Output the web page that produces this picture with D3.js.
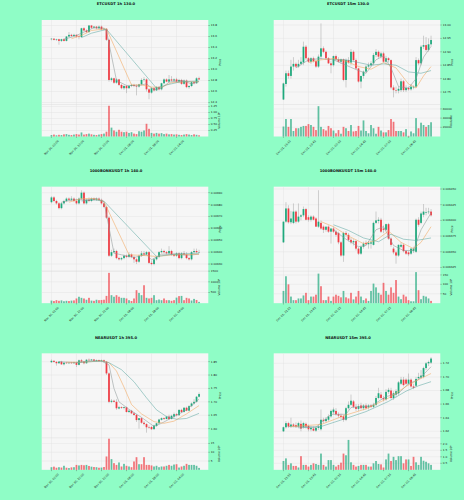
<!DOCTYPE html>
<html><head><meta charset="utf-8">
<script src="https://cdn.jsdelivr.net/npm/d3@7"></script>
<style>
html,body{margin:0;padding:0;background:#8ffdc6;}
svg{display:block;}
text{font-family:"DejaVu Sans",sans-serif;}
</style></head>
<body>
<svg id="chart" width="464" height="500"></svg>
<script>
// ---------- DATA ----------
const hourLabels = ["Nov 30, 02:00","Nov 30, 12:00","Nov 30, 22:00","Dec 01, 08:00","Dec 01, 18:00","Dec 02, 04:00"];
const quarterLabels = ["Dec 01, 21:15","Dec 01, 23:45","Dec 02, 02:15","Dec 02, 04:45","Dec 02, 07:15","Dec 02, 09:45"];
const tickIndex = [0,10,20,30,40,50];

// [open, high, low, close, volume]
const etc1h = [
[13.55,13.57,13.53,13.56,0.06],[13.56,13.57,13.53,13.54,0.08],[13.54,13.56,13.52,13.55,0.05],[13.55,13.56,13.45,13.52,0.07],
[13.52,13.56,13.50,13.55,0.06],[13.55,13.57,13.51,13.52,0.09],[13.52,13.61,13.51,13.60,0.10],[13.60,13.68,13.58,13.63,0.07],
[13.63,13.65,13.59,13.61,0.06],[13.61,13.65,13.60,13.63,0.08],[13.63,13.64,13.58,13.60,0.10],[13.60,13.62,13.55,13.59,0.08],
[13.59,13.76,13.58,13.75,0.17],[13.75,13.77,13.69,13.71,0.08],[13.71,13.73,13.66,13.68,0.10],[13.68,13.81,13.67,13.80,0.12],
[13.80,13.81,13.74,13.76,0.09],[13.76,13.79,13.74,13.78,0.07],[13.78,13.79,13.73,13.75,0.06],[13.75,13.80,13.74,13.78,0.08],
[13.78,13.80,13.72,13.73,0.10],[13.73,13.76,13.71,13.74,0.12],[13.74,13.75,13.52,13.54,0.20],[13.54,13.56,12.78,12.81,1.28],
[12.81,12.86,12.78,12.84,0.37],[12.84,12.85,12.74,12.76,0.25],[12.76,12.84,12.74,12.82,0.20],[12.82,12.83,12.70,12.72,0.28],
[12.72,12.74,12.64,12.66,0.20],[12.66,12.72,12.63,12.70,0.18],[12.70,12.72,12.57,12.66,0.20],[12.66,12.72,12.65,12.70,0.15],
[12.70,12.74,12.68,12.72,0.18],[12.72,12.74,12.68,12.70,0.12],[12.70,12.73,12.53,12.69,0.10],[12.69,12.74,12.67,12.73,0.22],
[12.73,12.84,12.71,12.81,0.20],[12.81,12.86,12.78,12.82,0.25],[12.82,12.84,12.60,12.64,0.53],[12.64,12.66,12.46,12.58,0.32],
[12.58,12.68,12.56,12.66,0.15],[12.66,12.68,12.60,12.62,0.12],[12.62,12.70,12.61,12.68,0.15],[12.68,12.70,12.62,12.64,0.12],
[12.64,12.76,12.62,12.75,0.14],[12.75,12.84,12.73,12.82,0.10],[12.82,12.84,12.77,12.78,0.12],[12.78,12.90,12.76,12.82,0.09],
[12.82,12.88,12.78,12.80,0.10],[12.80,12.84,12.78,12.82,0.08],[12.82,12.85,12.76,12.78,0.09],[12.78,12.83,12.75,12.81,0.07],
[12.81,12.83,12.72,12.74,0.06],[12.74,12.82,12.72,12.80,0.08],[12.80,12.82,12.66,12.68,0.10],[12.68,12.72,12.65,12.70,0.08],
[12.70,12.78,12.68,12.77,0.06],[12.77,12.79,12.73,12.75,0.09],[12.75,12.86,12.74,12.84,0.07],[12.84,12.87,12.81,12.82,0.05]
];
const etc1hMaShort = [[5,13.55],[9,13.6],[13,13.68],[17,13.76],[21,13.75],[22,13.7],[26,12.8],[30,12.71],[35,12.71],[38,12.74],[41,12.63],[44,12.66],[47,12.77],[52,12.8],[56,12.74],[59,12.78]];
const etc1hMaMid = [[8,13.56],[12,13.62],[16,13.71],[22,13.74],[32,12.72],[36,12.72],[40,12.68],[44,12.68],[48,12.76],[54,12.78],[59,12.78]];
const etc1hMaLong = [[12,13.58],[16,13.66],[22,13.73],[42,12.66],[46,12.72],[52,12.78],[59,12.79]];
const etc1hPriceTicks = [13.8,13.6,13.4,13.2,13.0,12.8,12.6,12.4];
const etc1hVolTicks = [0.25,0.5,0.75,1.0,1.25];

const etc15m = [
[12.722,12.785,12.72,12.782,21700],[12.78,12.83,12.77,12.82,38000],[12.82,12.83,12.80,12.81,21000],[12.81,12.87,12.80,12.845,38000],
[12.845,12.88,12.83,12.855,12000],[12.855,12.86,12.84,12.845,18000],[12.845,12.87,12.84,12.855,18000],[12.855,12.88,12.85,12.863,21000],
[12.86,12.938,12.85,12.919,23000],[12.919,12.925,12.87,12.876,23000],[12.876,12.88,12.86,12.863,27000],[12.863,12.88,12.855,12.876,25000],
[12.876,12.882,12.86,12.865,21000],[12.865,12.87,12.84,12.845,14000],[12.845,12.89,12.84,12.882,66000],[12.882,13.006,12.87,12.913,21000],
[12.913,12.92,12.895,12.90,16000],[12.90,12.905,12.87,12.876,13000],[12.876,12.88,12.855,12.857,23000],[12.857,12.865,12.82,12.85,18000],
[12.85,12.886,12.845,12.884,13000],[12.884,12.89,12.87,12.872,7000],[12.872,12.88,12.86,12.863,14000],[12.863,12.875,12.855,12.872,6000],
[12.872,12.875,12.79,12.795,21000],[12.795,12.875,12.767,12.869,18000],[12.869,12.88,12.855,12.86,12000],[12.86,12.91,12.85,12.90,25000],
[12.90,12.905,12.865,12.869,11000],[12.869,12.875,12.835,12.838,12000],[12.838,12.84,12.785,12.789,23000],[12.789,12.81,12.764,12.81,13000],
[12.81,12.83,12.80,12.826,35000],[12.826,12.85,12.82,12.845,12000],[12.845,12.86,12.84,12.85,7000],[12.85,12.865,12.845,12.857,25000],
[12.857,12.895,12.85,12.888,18000],[12.888,12.91,12.88,12.90,6000],[12.90,12.905,12.875,12.882,21000],[12.882,12.90,12.875,12.894,13000],
[12.894,12.90,12.86,12.863,9000],[12.863,12.885,12.855,12.876,9000],[12.876,12.88,12.86,12.869,14000],[12.869,12.872,12.76,12.767,38000],
[12.767,12.775,12.73,12.757,32000],[12.757,12.77,12.745,12.755,12000],[12.755,12.77,12.745,12.762,12000],[12.757,12.80,12.75,12.79,12000],
[12.79,12.795,12.75,12.757,9000],[12.757,12.775,12.75,12.765,16000],[12.765,12.77,12.755,12.76,1500],[12.76,12.78,12.755,12.77,11000],
[12.767,12.775,12.76,12.77,7000],[12.77,12.88,12.765,12.869,40000],[12.869,12.875,12.85,12.857,18000],[12.857,12.925,12.85,12.919,30000],
[12.919,12.96,12.91,12.925,25000],[12.925,12.955,12.90,12.907,21000],[12.907,12.95,12.90,12.928,25000],[12.928,12.96,12.92,12.944,31000]
];
const etc15mMaShort = [[5,12.84],[10,12.87],[15,12.875],[20,12.87],[25,12.85],[30,12.83],[33,12.82],[37,12.87],[40,12.885],[43,12.84],[46,12.77],[50,12.765],[53,12.8],[56,12.88],[59,12.92]];
const etc15mMaMid = [[10,12.86],[15,12.87],[20,12.875],[25,12.865],[30,12.845],[35,12.835],[40,12.86],[45,12.84],[50,12.78],[53,12.765],[56,12.81],[59,12.845]];
const etc15mMaLong = [[20,12.87],[25,12.87],[30,12.86],[35,12.85],[40,12.855],[45,12.85],[50,12.825],[55,12.82],[59,12.83]];
const etc15mPriceTicks = [13.00,12.95,12.90,12.85,12.80,12.75];
const etc15mVolTicks = [20000,40000,60000];

const bonk1h = [
[0.00982,0.00987,0.00981,0.00986,120],[0.00986,0.00987,0.00982,0.00983,100],[0.00983,0.00984,0.00980,0.00981,140],[0.00981,0.00982,0.00976,0.00977,110],
[0.00977,0.00982,0.00976,0.00981,130],[0.00981,0.00984,0.00980,0.00983,90],[0.00983,0.00986,0.00982,0.00985,110],[0.00985,0.00986,0.00983,0.00984,100],
[0.00984,0.00987,0.00983,0.00985,120],[0.00985,0.00986,0.00982,0.00983,130],[0.00983,0.00985,0.00980,0.00981,220],[0.00981,0.00986,0.00980,0.00985,300],
[0.00985,0.00992,0.00984,0.00990,250],[0.00990,0.00991,0.00980,0.00981,220],[0.00981,0.00985,0.00980,0.00984,160],[0.00984,0.00986,0.00982,0.00983,250],
[0.00983,0.00986,0.00982,0.00985,120],[0.00985,0.00986,0.00983,0.00984,110],[0.00984,0.00986,0.00983,0.00985,160],[0.00985,0.00986,0.00983,0.00984,140],
[0.00984,0.00985,0.00980,0.00981,150],[0.00981,0.00982,0.00977,0.00978,160],[0.00978,0.00979,0.00968,0.00969,340],[0.00969,0.00970,0.00936,0.00937,1420],
[0.00937,0.00942,0.00936,0.00940,375],[0.00940,0.00943,0.00939,0.00941,300],[0.00941,0.00942,0.00934,0.00935,375],[0.00935,0.00936,0.00933,0.00934,300],
[0.00934,0.00936,0.00933,0.00935,250],[0.00935,0.00938,0.00934,0.00937,250],[0.00937,0.00938,0.00935,0.00936,220],[0.00936,0.00940,0.00935,0.00938,140],
[0.00938,0.00939,0.00935,0.00936,100],[0.00936,0.00937,0.00931,0.00934,220],[0.00934,0.00935,0.00930,0.00932,610],[0.00932,0.00938,0.00931,0.00937,480],
[0.00937,0.00941,0.00936,0.00939,375],[0.00939,0.00941,0.00937,0.00938,840],[0.00938,0.00941,0.00937,0.00940,250],[0.00940,0.00941,0.00930,0.00931,220],
[0.00931,0.00933,0.00929,0.00930,250],[0.00930,0.00935,0.00929,0.00934,375],[0.00934,0.00937,0.00933,0.00936,140],[0.00936,0.00941,0.00935,0.00940,170],
[0.00940,0.00943,0.00939,0.00941,140],[0.00941,0.00942,0.00939,0.00940,220],[0.00940,0.00941,0.00938,0.00939,140],[0.00939,0.00945,0.00938,0.00941,140],
[0.00941,0.00942,0.00937,0.00938,110],[0.00938,0.00939,0.00936,0.00937,140],[0.00937,0.00940,0.00936,0.00939,260],[0.00939,0.00940,0.00934,0.00935,330],
[0.00935,0.00940,0.00934,0.00939,340],[0.00939,0.00941,0.00937,0.00938,140],[0.00938,0.00940,0.00934,0.00935,250],[0.00935,0.00936,0.00933,0.00934,220],
[0.00934,0.00941,0.00933,0.00940,125],[0.00940,0.00943,0.00939,0.00941,200],[0.00941,0.00943,0.00939,0.00940,150],[0.00940,0.00942,0.00939,0.00940,60]
];
const bonk1hMaShort = [[4,0.00982],[9,0.00984],[14,0.00984],[18,0.00985],[21,0.009825],[25,0.009392],[28,0.009378],[33,0.009355],[38,0.00938],[40,0.009336],[44,0.009383],[50,0.009383],[55,0.009375],[59,0.009383]];
const bonk1hMaMid = [[7,0.00982],[12,0.00985],[17,0.00985],[21,0.009825],[31,0.009378],[37,0.009372],[42,0.009364],[49,0.009378],[55,0.00938],[59,0.009383]];
const bonk1hMaLong = [[12,0.00983],[17,0.00984],[21,0.009828],[42,0.009364],[49,0.009383],[55,0.009388],[59,0.009392]];
const bonk1hPriceTicks = [0.0099,0.0098,0.0097,0.0096,0.0095,0.0094,0.0093];
const bonk1hVolTicks = [500,1000,1500];

const bonk15m = [
[0.009365,0.009398,0.009364,0.009398,65],[0.009398,0.009429,0.009396,0.009419,143],[0.009419,0.009424,0.009395,0.009397,100],[0.009397,0.009415,0.009394,0.009403,35],
[0.009396,0.009427,0.009394,0.009414,16],[0.009414,0.009416,0.009395,0.009398,16],[0.009398,0.009427,0.009396,0.009406,25],[0.009406,0.00941,0.0094,0.009408,25],
[0.009408,0.009422,0.009405,0.009418,41],[0.009418,0.00942,0.0094,0.009401,55],[0.009405,0.009408,0.009398,0.009401,16],[0.009401,0.009408,0.009398,0.009406,35],
[0.009406,0.009408,0.0094,0.009401,35],[0.009403,0.009405,0.00939,0.00939,45],[0.00939,0.009448,0.009388,0.009398,157],[0.009396,0.0094,0.009385,0.009387,90],
[0.00939,0.009392,0.00938,0.009385,16],[0.009385,0.00939,0.009382,0.00939,16],[0.00939,0.009392,0.00938,0.009382,35],[0.009382,0.009388,0.009363,0.009387,12],
[0.009387,0.00939,0.00938,0.009382,35],[0.009382,0.009385,0.009374,0.009377,45],[0.00938,0.009382,0.009362,0.009365,39],[0.009365,0.009367,0.009342,0.009344,31],
[0.009344,0.009382,0.009334,0.00938,65],[0.00938,0.009383,0.009374,0.009377,31],[0.009377,0.00938,0.009366,0.009369,25],[0.009369,0.009372,0.009362,0.009365,55],
[0.009365,0.00937,0.00936,0.009367,20],[0.009367,0.009369,0.009352,0.009355,35],[0.009355,0.009357,0.009345,0.009347,65],[0.009347,0.00936,0.009345,0.009358,35],
[0.009358,0.009366,0.009355,0.009363,16],[0.009364,0.009368,0.00936,0.009362,25],[0.009362,0.009367,0.009355,0.009364,12],[0.009363,0.009368,0.009355,0.009365,65],
[0.009361,0.009398,0.00936,0.009396,104],[0.009396,0.009414,0.009394,0.0094,84],[0.009399,0.009405,0.009395,0.009401,55],[0.009401,0.009404,0.00938,0.009382,45],
[0.009387,0.009392,0.00938,0.009385,108],[0.009385,0.009395,0.009383,0.009394,65],[0.009394,0.009396,0.009369,0.009371,45],[0.009371,0.009373,0.009358,0.009361,84],
[0.009355,0.009358,0.009346,0.009349,55],[0.009349,0.009352,0.009331,0.009344,123],[0.009344,0.009362,0.009342,0.009361,35],[0.009358,0.009365,0.009356,0.009361,21],
[0.009361,0.009363,0.009349,0.009351,45],[0.009351,0.009353,0.009345,0.009347,35],[0.009349,0.009351,0.009343,0.009346,16],[0.009347,0.009356,0.009345,0.009355,10],
[0.009351,0.009358,0.009348,0.009355,10],[0.00935,0.009403,0.009348,0.009401,165],[0.009401,0.009405,0.00939,0.009393,69],[0.009396,0.009414,0.009394,0.009411,21],
[0.009409,0.009426,0.009405,0.009414,39],[0.009412,0.00942,0.009408,0.009413,35],[0.009413,0.00942,0.00941,0.009414,25],[0.009414,0.009418,0.009406,0.009408,12]
];
const bonk15mMaShort = [[20,0.009385],[25,0.00937],[30,0.009358],[33,0.00936],[37,0.009385],[40,0.00939],[44,0.00936],[48,0.009352],[52,0.009352],[55,0.009385],[59,0.009412]];
const bonk15mMaMid = [[15,0.009398],[20,0.00939],[26,0.009375],[32,0.009363],[37,0.009368],[42,0.009383],[47,0.009365],[52,0.009355],[55,0.009365],[59,0.00939]];
const bonk15mMaLong = [[20,0.009393],[26,0.009384],[32,0.009372],[38,0.009366],[43,0.009378],[48,0.00937],[53,0.009368],[59,0.009372]];
const bonk15mPriceTicks = [0.00945,0.009425,0.0094,0.009375,0.00935,0.009325];
const bonk15mVolTicks = [50,100,150];

const near1h = [
[1.848,1.858,1.845,1.853,1.5],[1.853,1.855,1.846,1.849,1.8],[1.849,1.852,1.835,1.844,1.2],[1.844,1.852,1.842,1.85,1.5],
[1.85,1.853,1.838,1.84,1.3],[1.84,1.848,1.836,1.846,2.3],[1.846,1.849,1.842,1.844,1.2],[1.844,1.848,1.841,1.846,1.0],
[1.846,1.849,1.842,1.844,1.4],[1.844,1.85,1.842,1.847,1.5],[1.847,1.85,1.83,1.838,2.8],[1.838,1.858,1.836,1.855,2.5],
[1.855,1.86,1.845,1.85,2.8],[1.85,1.853,1.84,1.844,2.6],[1.844,1.86,1.842,1.857,2.8],[1.857,1.862,1.852,1.855,2.2],
[1.855,1.86,1.852,1.858,1.8],[1.858,1.86,1.851,1.853,1.6],[1.853,1.858,1.85,1.856,1.5],[1.856,1.858,1.85,1.852,1.2],
[1.852,1.858,1.848,1.855,1.3],[1.855,1.858,1.848,1.85,1.6],[1.85,1.852,1.80,1.806,7.6],[1.806,1.81,1.695,1.70,17.7],
[1.70,1.71,1.695,1.704,6.1],[1.704,1.708,1.698,1.70,3.8],[1.70,1.71,1.67,1.676,2.8],[1.675,1.685,1.672,1.68,4.2],
[1.68,1.683,1.674,1.677,1.9],[1.677,1.682,1.672,1.68,3.4],[1.68,1.683,1.66,1.662,2.3],[1.662,1.672,1.658,1.667,1.9],
[1.667,1.67,1.654,1.657,1.5],[1.657,1.662,1.648,1.651,4.75],[1.651,1.655,1.625,1.632,7.2],[1.632,1.64,1.60,1.639,3.2],
[1.639,1.642,1.618,1.622,3.2],[1.622,1.628,1.612,1.617,7.2],[1.617,1.62,1.585,1.605,2.8],[1.605,1.612,1.60,1.603,2.8],
[1.606,1.61,1.595,1.598,2.5],[1.598,1.615,1.596,1.612,1.9],[1.61,1.622,1.606,1.62,2.3],[1.62,1.637,1.617,1.634,1.5],
[1.633,1.642,1.63,1.639,1.9],[1.639,1.642,1.632,1.636,1.9],[1.636,1.648,1.634,1.645,2.3],[1.645,1.652,1.632,1.636,2.8],
[1.636,1.652,1.634,1.648,2.3],[1.645,1.66,1.64,1.654,3.0],[1.654,1.658,1.646,1.65,3.2],[1.65,1.672,1.648,1.67,1.3],
[1.67,1.674,1.658,1.662,1.9],[1.662,1.68,1.66,1.678,2.3],[1.678,1.682,1.665,1.667,3.4],[1.667,1.688,1.664,1.684,2.8],
[1.684,1.698,1.68,1.694,2.8],[1.694,1.71,1.69,1.70,2.8],[1.70,1.722,1.697,1.719,2.3],[1.719,1.735,1.716,1.729,1.1]
];
const near1hMaShort = [[3,1.85],[10,1.846],[16,1.853],[20,1.852],[23,1.838],[25,1.75],[27,1.70],[31,1.672],[36,1.642],[41,1.608],[44,1.62],[49,1.645],[54,1.67],[59,1.71]];
const near1hMaMid = [[6,1.848],[13,1.848],[20,1.853],[23,1.846],[26,1.815],[29,1.755],[32,1.69],[36,1.655],[41,1.626],[45,1.62],[49,1.628],[54,1.655],[59,1.686]];
const near1hMaLong = [[10,1.847],[16,1.85],[20,1.852],[23,1.846],[28,1.82],[33,1.775],[38,1.715],[42,1.67],[46,1.645],[50,1.635],[54,1.638],[59,1.657]];
const near1hPriceTicks = [1.85,1.80,1.75,1.70,1.65,1.60];
const near1hVolTicks = [5,10,15];

const near15m = [
[1.62,1.627,1.619,1.626,0.68],[1.626,1.635,1.624,1.632,0.88],[1.632,1.634,1.625,1.627,0.38],[1.627,1.64,1.625,1.63,0.5],
[1.63,1.632,1.626,1.628,0.3],[1.629,1.633,1.625,1.627,0.3],[1.627,1.634,1.625,1.632,0.18],[1.631,1.636,1.62,1.624,1.05],
[1.626,1.634,1.624,1.632,0.38],[1.631,1.633,1.624,1.627,0.38],[1.628,1.63,1.62,1.623,0.25],[1.623,1.628,1.62,1.625,0.38],
[1.624,1.627,1.62,1.621,0.5],[1.621,1.627,1.619,1.625,0.45],[1.625,1.63,1.622,1.627,0.38],[1.623,1.652,1.621,1.637,1.25],
[1.637,1.64,1.632,1.635,0.38],[1.635,1.641,1.633,1.638,0.25],[1.637,1.645,1.635,1.642,0.75],[1.642,1.652,1.64,1.65,0.75],
[1.648,1.655,1.645,1.652,0.38],[1.65,1.654,1.643,1.645,0.25],[1.645,1.648,1.64,1.643,0.38],[1.643,1.646,1.638,1.641,0.55],
[1.642,1.644,1.634,1.637,1.25],[1.637,1.656,1.635,1.654,1.12],[1.654,1.664,1.652,1.659,2.3],[1.659,1.674,1.657,1.665,0.58],
[1.664,1.666,1.654,1.656,0.38],[1.656,1.66,1.65,1.653,0.25],[1.653,1.66,1.65,1.657,0.3],[1.658,1.662,1.652,1.654,0.38],
[1.654,1.66,1.651,1.658,0.38],[1.658,1.661,1.652,1.654,0.38],[1.655,1.66,1.652,1.658,0.25],[1.658,1.66,1.654,1.656,0.25],
[1.656,1.662,1.654,1.659,0.5],[1.659,1.672,1.657,1.669,0.68],[1.669,1.684,1.667,1.676,0.45],[1.674,1.678,1.667,1.669,0.42],
[1.669,1.672,1.664,1.667,0.18],[1.667,1.682,1.665,1.678,0.8],[1.678,1.684,1.675,1.681,1.25],[1.68,1.684,1.667,1.669,0.68],
[1.669,1.679,1.666,1.676,1.0],[1.674,1.682,1.67,1.679,0.75],[1.676,1.694,1.673,1.692,1.05],[1.69,1.70,1.688,1.696,1.05],
[1.696,1.70,1.686,1.688,0.5],[1.696,1.698,1.688,1.69,0.8],[1.69,1.705,1.688,1.696,0.8],[1.696,1.698,1.684,1.686,0.3],
[1.686,1.69,1.682,1.684,1.0],[1.687,1.70,1.685,1.697,0.58],[1.698,1.706,1.696,1.70,0.38],[1.699,1.71,1.697,1.702,1.0],
[1.70,1.715,1.698,1.713,0.7],[1.713,1.722,1.71,1.72,0.62],[1.72,1.724,1.716,1.722,0.5],[1.721,1.729,1.719,1.727,0.38]
];
const near15mMaShort = [[2,1.627],[13,1.626],[19,1.645],[25,1.645],[27,1.655],[35,1.657],[41,1.671],[46,1.676],[50,1.69],[54,1.696],[59,1.715]];
const near15mMaMid = [[3,1.627],[15,1.63],[25,1.644],[33,1.653],[42,1.669],[49,1.686],[54,1.696],[59,1.705]];
const near15mMaLong = [[6,1.625],[15,1.627],[25,1.639],[33,1.649],[42,1.664],[49,1.679],[54,1.687],[59,1.693]];
const near15mPriceTicks = [1.72,1.70,1.68,1.66,1.64,1.62];
const near15mVolTicks = [0.5,1.0,1.5,2.0];

// visible value ranges
const etc1hRange = [12.364, 13.9], etc15mRange = [12.7034, 13.0187];
const bonk1hRange = [0.00924034, 0.0099504], bonk15mRange = [0.0093191, 0.0094537];
const near1hRange = [1.5657, 1.881], near15mRange = [1.6104, 1.7347];
const etc1hVolMax = 1.333, etc15mVolMax = 69600, bonk1hVolMax = 1500, bonk15mVolMax = 170, near1hVolMax = 18.2, near15mVolMax = 2.46;

// ---------- CHART ----------
const panels = [
 {title:"ETCUSDT 1h 130.0", data:etc1h, ma:[etc1hMaShort,etc1hMaMid,etc1hMaLong], range:etc1hRange, pt:etc1hPriceTicks, pf:".1f", vmax:etc1hVolMax, vt:etc1hVolTicks, vf:".2f", vl:"Volume  10⁶", xl:hourLabels},
 {title:"ETCUSDT 15m 130.0", data:etc15m, ma:[etc15mMaShort,etc15mMaMid,etc15mMaLong], range:etc15mRange, pt:etc15mPriceTicks, pf:".2f", vmax:etc15mVolMax, vt:etc15mVolTicks, vf:"d", vl:"Volume", xl:quarterLabels},
 {title:"1000BONKUSDT 1h 140.0", data:bonk1h, ma:[bonk1hMaShort,bonk1hMaMid,bonk1hMaLong], range:bonk1hRange, pt:bonk1hPriceTicks, pf:".5f", vmax:bonk1hVolMax, vt:bonk1hVolTicks, vf:"d", vl:"Volume  10⁶", xl:hourLabels},
 {title:"1000BONKUSDT 15m 140.0", data:bonk15m, ma:[bonk15mMaShort,bonk15mMaMid,bonk15mMaLong], range:bonk15mRange, pt:bonk15mPriceTicks, pf:".6f", vmax:bonk15mVolMax, vt:bonk15mVolTicks, vf:"d", vl:"Volume  10⁶", xl:quarterLabels},
 {title:"NEARUSDT 1h 395.0", data:near1h, ma:[near1hMaShort,near1hMaMid,near1hMaLong], range:near1hRange, pt:near1hPriceTicks, pf:".2f", vmax:near1hVolMax, vt:near1hVolTicks, vf:"d", vl:"Volume  10⁶", xl:hourLabels},
 {title:"NEARUSDT 15m 395.0", data:near15m, ma:[near15mMaShort,near15mMaMid,near15mMaLong], range:near15mRange, pt:near15mPriceTicks, pf:".2f", vmax:near15mVolMax, vt:near15mVolTicks, vf:".1f", vl:"Volume  10⁶", xl:quarterLabels}
];

const UP="#1fa97d", DOWN="#f03c44", WICK="#9a9a9a";
const maColors=["#8e9696","#f3a65a","#5fa8a4"];
const svg=d3.select("#chart");
const colW=232, rowH=500/3;
const L=41.7, R=208.3, PT=20, PB=104.5, VB=136.5;
const x=d3.scaleLinear().domain([-3.9,62.7]).range([L,R]);
const bw=1.75;

panels.forEach((p,k)=>{
  const g=svg.append("g").attr("transform",`translate(${(k%2)*colW},${Math.floor(k/2)*rowH})`);
  const y=d3.scaleLinear().domain(p.range).range([PB,PT]);
  const yv=d3.scaleLinear().domain([0,p.vmax]).range([VB,PB]);

  g.append("text").attr("x",116).attr("y",5.2).attr("text-anchor","middle")
   .attr("font-size",3.7).attr("font-weight","bold").attr("fill","#111").text(p.title);

  g.append("rect").attr("x",L).attr("y",PT).attr("width",R-L).attr("height",VB-PT).attr("fill","#f6f6f6");
  // grid
  const grid=g.append("g").attr("stroke","#e1e1e1").attr("stroke-width",0.4);
  tickIndex.forEach(i=>grid.append("line").attr("x1",x(i)).attr("x2",x(i)).attr("y1",PT).attr("y2",VB));
  p.pt.forEach(v=>grid.append("line").attr("x1",L).attr("x2",R).attr("y1",y(v)).attr("y2",y(v)));
  p.vt.forEach(v=>grid.append("line").attr("x1",L).attr("x2",R).attr("y1",yv(v)).attr("y2",yv(v)));
  g.append("line").attr("x1",L).attr("x2",R).attr("y1",PB).attr("y2",PB).attr("stroke","#dadada").attr("stroke-width",0.4);

  // volume
  g.append("g").selectAll("rect").data(p.data).join("rect")
   .attr("x",(d,i)=>x(i)-bw/2).attr("width",bw)
   .attr("y",d=>yv(d[4])).attr("height",d=>VB-yv(d[4]))
   .attr("fill",d=>d[3]>=d[0]?UP:DOWN).attr("fill-opacity",0.7);

  // wicks & bodies
  g.append("g").selectAll("line").data(p.data).join("line")
   .attr("x1",(d,i)=>x(i)).attr("x2",(d,i)=>x(i))
   .attr("y1",d=>y(d[1])).attr("y2",d=>y(d[2]))
   .attr("stroke",WICK).attr("stroke-width",0.45);
  g.append("g").selectAll("rect").data(p.data).join("rect")
   .attr("x",(d,i)=>x(i)-bw/2).attr("width",bw)
   .attr("y",d=>y(Math.max(d[0],d[3])))
   .attr("height",d=>Math.max(0.35,Math.abs(y(d[0])-y(d[3]))))
   .attr("fill",d=>d[3]>=d[0]?UP:DOWN);

  // moving averages
  const line=d3.line().x(d=>x(d[0])).y(d=>y(d[1]));
  p.ma.forEach((m,j)=>g.append("path").attr("d",line(m)).attr("fill","none")
     .attr("stroke",maColors[j]).attr("stroke-width",0.55));

  // right axes
  const ax=g.append("g").attr("font-size",2.8).attr("fill","#222");
  p.pt.forEach(v=>{
    ax.append("line").attr("x1",R).attr("x2",R+1.5).attr("y1",y(v)).attr("y2",y(v)).attr("stroke","#444").attr("stroke-width",0.35);
    ax.append("text").attr("x",R+2.5).attr("y",y(v)).attr("dy","0.35em").text(d3.format(p.pf)(v));
  });
  p.vt.forEach(v=>{
    ax.append("line").attr("x1",R).attr("x2",R+1.5).attr("y1",yv(v)).attr("y2",yv(v)).attr("stroke","#444").attr("stroke-width",0.35);
    ax.append("text").attr("x",R+2.5).attr("y",yv(v)).attr("dy","0.35em").text(d3.format(p.vf)(v));
  });
  g.append("text").attr("transform",`translate(221,${(PT+PB)/2}) rotate(-90)`).attr("text-anchor","middle")
   .attr("font-size",2.9).attr("fill","#222").text("Price");
  g.append("text").attr("transform",`translate(220,${(PB+VB)/2}) rotate(-90)`).attr("text-anchor","middle")
   .attr("font-size",2.9).attr("fill","#222").text(p.vl);

  // x axis
  tickIndex.forEach((i,n)=>{
    g.append("line").attr("x1",x(i)).attr("x2",x(i)).attr("y1",VB).attr("y2",VB+1.3).attr("stroke","#444").attr("stroke-width",0.35);
    g.append("text").attr("transform",`translate(${x(i)},${VB+11}) rotate(-45)`).attr("text-anchor","middle")
     .attr("dy","0.35em").attr("font-size",2.8).attr("fill","#222").text(p.xl[n]);
  });
});
</script>
</body></html>
